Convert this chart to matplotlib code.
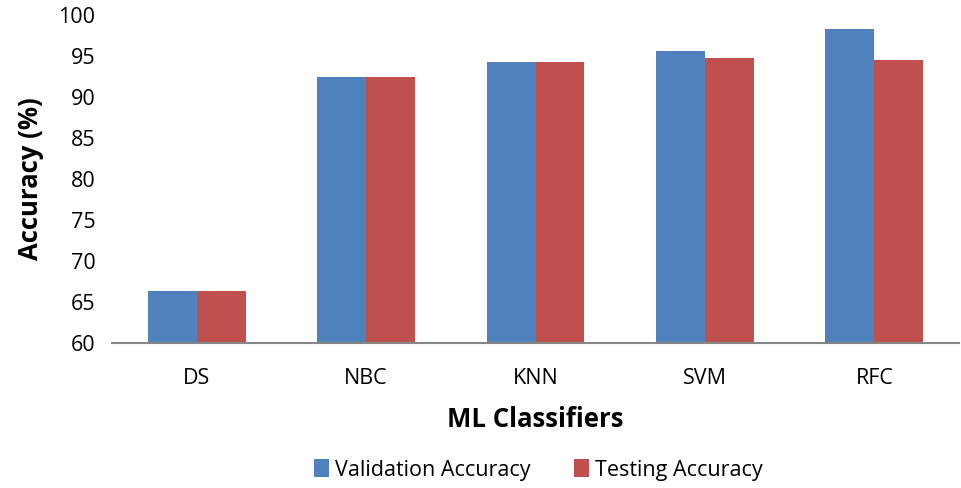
import numpy as np
import matplotlib.pyplot as plt

classifiers = ['DS', 'NBC', 'KNN', 'SVM', 'RFC']
validation_acc = [66.3, 92.5, 94.3, 95.6, 98.3]
testing_acc = [66.3, 92.4, 94.3, 94.8, 94.5]

plt.rcParams['font.family'] = ['Open Sans', 'DejaVu Sans']

fig = plt.figure(figsize=(9.61, 4.88), dpi=100)
ax = fig.add_axes([0.1165, 0.297, 0.8815, 0.672])

x = np.arange(len(classifiers))
w = 0.289
ax.bar(x - w / 2, np.array(validation_acc) - 60, w, bottom=60, color='#4F81BD', label='Validation Accuracy')
ax.bar(x + w / 2, np.array(testing_acc) - 60, w, bottom=60, color='#C0504D', label='Testing Accuracy')

ax.set_xlim(-0.5, len(classifiers) - 0.5)
ax.set_ylim(60, 100)
ax.set_yticks(range(60, 101, 5))
ax.set_xticks(x)
ax.set_xticklabels(classifiers)
ax.tick_params(axis='both', length=0, labelsize=15.5)
ax.tick_params(axis='x', pad=18)
ax.tick_params(axis='y', pad=12)

for s in ['top', 'right', 'left']:
    ax.spines[s].set_visible(False)
ax.spines['bottom'].set_color('#868686')
ax.spines['bottom'].set_linewidth(1.5)

ax.set_ylabel('Accuracy (%)', fontsize=18.5, fontweight='bold', labelpad=10)
ax.set_xlabel('ML Classifiers', fontsize=18.5, fontweight='bold', labelpad=12)

fig.legend(loc='center', bbox_to_anchor=(0.56, 0.037), ncol=2, frameon=False,
           fontsize=15.5, handlelength=0.7, handleheight=0.9, handletextpad=0.3, columnspacing=2.0)

fig.savefig('out.png', dpi=100)
